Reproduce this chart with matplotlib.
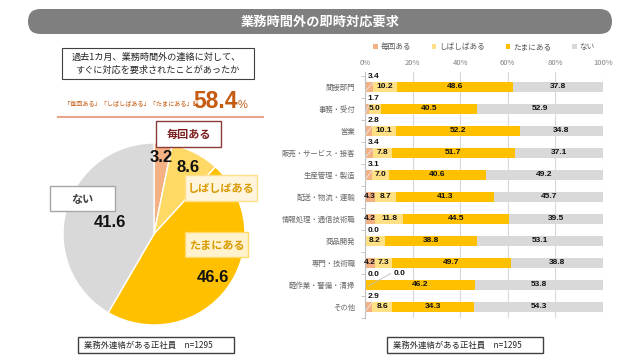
import matplotlib
matplotlib.use('Agg')
import matplotlib.pyplot as plt
from matplotlib.patches import FancyBboxPatch, Rectangle, Patch
import numpy as np

plt.rcParams['font.family'] = ['Noto Sans CJK JP', 'DejaVu Sans']

# ---------------- data ----------------
title = '業務時間外の即時対応要求'
question = ['過去1カ月、業務時間外の連絡に対して、', 'すぐに対応を要求されたことがあったか']
pie_labels = ['毎回ある', 'しばしばある', 'たまにある', 'ない']
pie_values = [3.2, 8.6, 46.6, 41.6]
total_label = '「毎回ある」「しばしばある」「たまにある」計'
total_value = 58.4
note = '業務外連絡がある正社員　n=1295'

categories = ['間接部門', '事務・受付', '営業', '販売・サービス・接客', '生産管理・製造',
              '配送・物流・運輸', '情報処理・通信技術職', '商品開発', '専門・技術職',
              '軽作業・警備・清掃', 'その他']
every = [3.4, 1.7, 2.8, 3.4, 3.1, 4.3, 4.2, 0.0, 4.2, 0.0, 2.9]
often = [10.2, 5.0, 10.1, 7.8, 7.0, 8.7, 11.8, 8.2, 7.3, 0.0, 8.6]
sometimes = [48.6, 40.5, 52.2, 51.7, 40.6, 41.3, 44.5, 38.8, 49.7, 46.2, 34.3]
never = [37.8, 52.9, 34.8, 37.1, 49.2, 45.7, 39.5, 53.1, 38.8, 53.8, 54.3]
xticks = [0, 20, 40, 60, 80, 100]

pie_colors = ['#F4B183', '#FFD966', '#FFC000', '#D9D9D9']
bar_colors = ['#F4B183', '#FFE084', '#FFC000', '#D9D9D9']

W, H = 642, 359
fig = plt.figure(figsize=(W / 100, H / 100), dpi=100)


def fx(x):
    return x / W


def fy(y):
    return 1 - y / H


# ---------------- pie ----------------
cx, cy, r = 154, 234, 91
axp = fig.add_axes([fx(cx - r), fy(cy + r), 2 * r / W, 2 * r / H])
wedges, _ = axp.pie(pie_values, colors=pie_colors, startangle=90, counterclock=False,
                    wedgeprops=dict(edgecolor='white', linewidth=1))
axp.set_xlim(-1, 1)
axp.set_ylim(-1, 1)
radii = [0.84, 0.82, 0.80, 0.50]
cum = np.cumsum([0] + pie_values)
for k, v in enumerate(pie_values):
    mid = np.deg2rad(90 - (cum[k] + v / 2) * 3.6)
    axp.text(radii[k] * np.cos(mid), radii[k] * np.sin(mid), f'{v:.1f}',
             ha='center', va='center', fontsize=12, fontweight='bold',
             family='Liberation Sans', color='#111111', zorder=10)

# ---------------- bars ----------------
top, bottom = 71.6, 318
axb = fig.add_axes([fx(365), fy(bottom), 238 / W, (bottom - top) / H])
y = np.arange(len(categories))
series = [every, often, sometimes, never]
left = np.zeros(len(categories))
for s, col, lab in zip(series, bar_colors, pie_labels):
    axb.barh(y, s, left=left, height=0.42, color=col, label=lab, zorder=2)
    left = left + np.array(s)

axb.set_xlim(0, 100)
axb.set_ylim(10.5, -0.7)
axb.xaxis.tick_top()
axb.set_xticks(xticks, [f'{t}%' for t in xticks])
axb.tick_params(axis='x', length=0, labelsize=5.5, labelcolor='#7F7F7F', pad=3)
axb.set_yticks(y, categories)
axb.tick_params(axis='y', which='major', length=0, labelsize=5.3, labelcolor='#666666', pad=7)
axb.set_yticks(np.arange(-0.5, len(categories), 1), minor=True)
axb.tick_params(axis='y', which='minor', length=3, color='#BFBFBF', width=0.6)
axb.grid(axis='x', color='#D9D9D9', linewidth=0.8, zorder=0)
axb.set_axisbelow(True)
for sp in ['top', 'right', 'bottom']:
    axb.spines[sp].set_visible(False)
axb.spines['left'].set_color('#BFBFBF')
axb.spines['left'].set_linewidth(0.8)

lab_kw = dict(fontsize=6, fontweight='bold', family='Liberation Sans', color='#111111', zorder=5)
for i in range(len(categories)):
    lefts = np.cumsum([0] + [s[i] for s in series])
    for j, s in enumerate(series):
        v = s[i]
        if j == 0 and v < 4:
            axb.text(1.2, i - 0.5, f'{v:.1f}', ha='left', va='center', **lab_kw)
            if v > 0:
                axb.plot([0.2, v], [i + 0.18, i - 0.2], color='#E8E8E8', lw=0.6, zorder=4)
        elif j == 1 and v == 0:
            axb.text(12.0, i - 0.52, f'{v:.1f}', ha='left', va='center', **lab_kw)
            axb.plot([10.8, 1.3], [i - 0.52, i + 0.05], color='#BFBFBF', lw=0.6, zorder=4)
        else:
            axb.text(lefts[j] + v / 2, i, f'{v:.1f}', ha='center', va='center', **lab_kw)

handles = [Patch(facecolor=c, edgecolor='none') for c in bar_colors]
fig.legend(handles, pie_labels, loc='center', bbox_to_anchor=(fx(484), fy(47)), ncol=4,
           frameon=False, fontsize=5.5, labelcolor='#595959', handlelength=0.6,
           handleheight=0.6, handletextpad=0.4, columnspacing=2.7)

# ---------------- overlay annotations ----------------
ov = fig.add_axes([0, 0, 1, 1])
ov.set_xlim(0, W)
ov.set_ylim(H, 0)
ov.axis('off')
ov.patch.set_visible(False)
ov.set_zorder(10)

ov.add_patch(FancyBboxPatch((28, 9), 584, 25, boxstyle='round,pad=0,rounding_size=12.5',
                            fc='#7F7F7F', ec='none'))
ov.text(320, 21.5, title, color='white', fontsize=9.5, fontweight='bold', ha='center', va='center')

ov.add_patch(Rectangle((62, 48), 192, 31, fc='white', ec='#404040', lw=0.8))
ov.text(156, 57.5, question[0], fontsize=6.6, color='#262626', ha='center', va='center')
ov.text(157, 70.5, question[1], fontsize=6.6, color='#262626', ha='center', va='center')

ov.text(64, 104, total_label, fontsize=4.4, color='#C55A11', ha='left', va='center')
ov.text(193, 108.5, f'{total_value}', fontsize=16.5, fontweight='bold', family='Liberation Sans',
        color='#C55A11', ha='left', va='baseline')
ov.text(238, 108.5, '%', fontsize=8, family='Liberation Sans', color='#C55A11',
        ha='left', va='baseline')
ov.plot([58, 263], [117, 117], color='#E6A58C', lw=1.5)

# pie label boxes: (x0, y0, x1, y1, face, edge, textcolor)
boxes = [
    (156, 121, 221, 147, 'white', '#8B3A3A', '#7B1F1F'),
    (185, 175, 257, 201, '#FFF5DC', '#FFE08A', '#D99A00'),
    (185, 232, 248, 257, '#FFF2CC', '#FFD966', '#D99A00'),
    (50, 186, 115, 211, 'white', '#A6A6A6', '#404040'),
]
for (x0, y0, x1, y1, fc, ec, tc), lab in zip(boxes, pie_labels):
    ov.add_patch(Rectangle((x0, y0), x1 - x0, y1 - y0, fc=fc, ec=ec, lw=1))
    ov.text((x0 + x1) / 2, (y0 + y1) / 2 + 0.5, lab, fontsize=8, fontweight='bold',
            color=tc, ha='center', va='center')

for x0 in (78, 387):
    ov.add_patch(Rectangle((x0, 337), 156, 16, fc='white', ec='#404040', lw=1))
    ov.text(x0 + 6, 345.5, note, fontsize=6, color='#262626', ha='left', va='center')

fig.savefig('out.png', dpi=100)
